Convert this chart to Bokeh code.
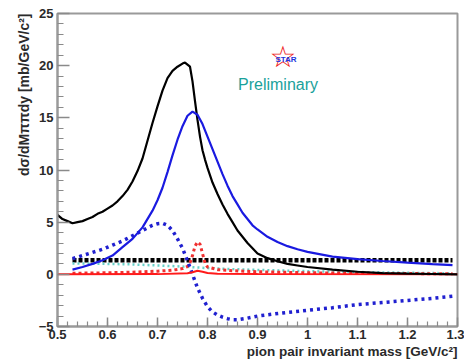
from bokeh.plotting import figure
from bokeh.models import Range1d, FixedTicker, Label, Title, CustomJSTickFormatter
from bokeh.embed import file_html
from bokeh.resources import INLINE

# ---------------- data ----------------
# measured spectrum (black)
data_mass = [0.50, 0.51, 0.52, 0.53, 0.54, 0.55, 0.56, 0.57, 0.58, 0.59,
             0.60, 0.61, 0.62, 0.63, 0.64, 0.65, 0.66, 0.67, 0.68, 0.69,
             0.70, 0.71, 0.72, 0.73, 0.74, 0.75, 0.755, 0.76, 0.765, 0.77,
             0.775, 0.78, 0.785, 0.79, 0.795, 0.80, 0.81, 0.82, 0.83, 0.84,
             0.85, 0.86, 0.87, 0.88, 0.89, 0.90, 0.92, 0.94, 0.96, 0.98,
             1.00, 1.05, 1.10, 1.15, 1.20, 1.25, 1.30]
data_xsec = [5.7, 5.3, 5.1, 4.9, 5.0, 5.1, 5.3, 5.5, 5.8, 6.0,
             6.3, 6.6, 7.0, 7.5, 8.1, 8.9, 9.9, 11.1, 12.8, 14.5,
             16.1, 17.6, 18.8, 19.5, 19.9, 20.2, 20.3, 20.1, 19.9, 18.5,
             16.6, 14.8, 13.2, 11.9, 11.0, 10.2, 8.8, 7.7, 6.7, 5.8,
             5.0, 4.2, 3.6, 3.0, 2.5, 2.0, 1.55, 1.25, 1.0, 0.85,
             0.7, 0.45, 0.25, 0.12, 0.06, 0.03, 0.0]

# rho Breit-Wigner (blue solid)
rho_mass = [0.53, 0.55, 0.57, 0.59, 0.61, 0.63, 0.65, 0.67, 0.69, 0.70,
            0.71, 0.72, 0.73, 0.74, 0.75, 0.76, 0.77, 0.78, 0.79, 0.80,
            0.81, 0.82, 0.83, 0.84, 0.85, 0.86, 0.87, 0.88, 0.89, 0.90,
            0.92, 0.94, 0.96, 0.98, 1.00, 1.05, 1.10, 1.15, 1.20, 1.25, 1.29]
rho_xsec = [0.45, 0.7, 1.0, 1.35, 1.8, 2.6, 3.4, 4.5, 6.1, 7.1,
            8.3, 9.8, 11.4, 12.9, 14.2, 15.2, 15.6, 15.3, 14.4, 13.2,
            12.0, 10.8, 9.6, 8.5, 7.5, 6.7, 5.9, 5.3, 4.7, 4.3,
            3.6, 3.1, 2.7, 2.4, 2.15, 1.7, 1.45, 1.28, 1.12, 0.98, 0.88]

# interference term (blue dotted)
intf_mass = [0.53, 0.55, 0.57, 0.59, 0.61, 0.63, 0.65, 0.67, 0.69, 0.70,
             0.71, 0.72, 0.73, 0.74, 0.75, 0.76, 0.77, 0.78, 0.79, 0.80,
             0.81, 0.82, 0.83, 0.84, 0.85, 0.86, 0.88, 0.90, 0.95, 1.00,
             1.05, 1.10, 1.15, 1.20, 1.25, 1.29]
intf_xsec = [1.5, 1.8, 2.1, 2.4, 2.8, 3.2, 3.7, 4.2, 4.7, 4.85,
             4.9, 4.7, 4.2, 3.4, 2.5, 1.3, 0.0, -1.3, -2.3, -3.1,
             -3.6, -3.9, -4.1, -4.25, -4.35, -4.35, -4.2, -4.0, -3.7, -3.45,
             -3.2, -2.9, -2.7, -2.5, -2.3, -2.1]

# omega contribution (red dotted)
omega_mass = [0.53, 0.60, 0.65, 0.70, 0.73, 0.75, 0.76, 0.765, 0.77, 0.775,
              0.78, 0.785, 0.79, 0.795, 0.80, 0.82, 0.85, 0.90, 1.00, 1.10, 1.29]
omega_xsec = [0.1, 0.15, 0.2, 0.3, 0.4, 0.55, 0.75, 1.1, 1.8, 2.7,
              3.1, 2.9, 2.0, 1.1, 0.7, 0.45, 0.35, 0.25, 0.15, 0.1, 0.05]

# omega-rho interference (red solid)
omint_mass = [0.50, 0.70, 0.76, 0.77, 0.78, 0.79, 0.80, 0.82, 0.90, 1.30]
omint_xsec = [0.0, 0.02, 0.1, 0.2, 0.35, 0.25, 0.12, 0.05, 0.02, 0.0]

# incoherent background (cyan dotted)
bkg_mass = [0.53, 0.60, 0.65, 0.70, 0.75, 0.80, 0.85, 0.90, 1.00, 1.10, 1.20, 1.29]
bkg_xsec = [1.05, 1.0, 0.95, 0.85, 0.75, 0.6, 0.5, 0.42, 0.3, 0.22, 0.15, 0.1]

# direct pi+pi- (black dotted, constant)
direct_mass = [0.53, 1.29]
direct_xsec = [1.35, 1.35]

x_ticks = [0.5, 0.6, 0.7, 0.8, 0.9, 1.0, 1.1, 1.2, 1.3]
y_ticks = [-5, 0, 5, 10, 15, 20, 25]
x_title = "pion pair invariant mass [GeV/c²]"
y_title = "dσ/dMππdy [mb/GeV/c²]"

# ---------------- figure ----------------
p = figure(width=464, height=361, output_backend="svg", toolbar_location=None,
           x_range=Range1d(0.5, 1.3), y_range=Range1d(-5, 25),
           min_border_left=57, min_border_right=7, min_border_top=13,
           min_border_bottom=35)
p.xgrid.visible = False
p.ygrid.visible = False
p.outline_line_color = "#9a9a9a"
p.outline_line_width = 2
p.background_fill_color = "white"
p.border_fill_color = "white"

xminor = [round(x_ticks[0] + i * 0.02, 3) for i in range(int(round((x_ticks[-1] - x_ticks[0]) / 0.02)) + 1)]
yminor = list(range(y_ticks[0], y_ticks[-1] + 1))
p.xaxis.ticker = FixedTicker(ticks=x_ticks, minor_ticks=xminor)
p.yaxis.ticker = FixedTicker(ticks=y_ticks, minor_ticks=yminor)
p.xaxis.formatter = CustomJSTickFormatter(code="return String(Number(tick.toFixed(1)));")

for ax in (p.xaxis[0], p.yaxis[0]):
    ax.axis_line_color = "#9a9a9a"
    ax.axis_line_width = 2
    ax.major_tick_line_color = "#8a8a8a"
    ax.minor_tick_line_color = "#8a8a8a"
    ax.major_tick_line_width = 1.5
    ax.minor_tick_line_width = 1.2
    ax.major_tick_out = 0
    ax.minor_tick_out = 0
    ax.major_label_text_font = "Liberation Sans"
    ax.major_label_text_font_style = "bold"
    ax.major_label_text_font_size = "13px"
    ax.major_label_text_color = "#2a2a2a"
p.xaxis.major_tick_in = 9
p.xaxis.minor_tick_in = 5
p.yaxis.major_tick_in = 12
p.yaxis.minor_tick_in = 6
p.xaxis.major_label_standoff = 3
p.yaxis.major_label_standoff = 4

# axis titles, right/top aligned as in ROOT
p.add_layout(Title(text=x_title, align="right", standoff=0,
                   text_font="Liberation Sans", text_font_style="bold",
                   text_font_size="13.5px", text_color="#2a2a2a"), "below")
p.add_layout(Title(text=y_title, align="right", standoff=7,
                   text_font="Liberation Sans", text_font_style="bold",
                   text_font_size="14px", text_color="#2a2a2a"), "left")

# ---------------- curves ----------------
p.line(direct_mass, direct_xsec, line_color="black", line_width=4.5, line_dash="4 2")
p.line(bkg_mass, bkg_xsec, line_color="#66d0c8", line_width=2.5, line_dash="2 3")
p.line(omega_mass, omega_xsec, line_color="#f03030", line_width=3, line_dash="3 3")
p.line(intf_mass, intf_xsec, line_color="#2020d0", line_width=3.5, line_dash="3 4")
p.line(omint_mass, omint_xsec, line_color="#ff1a1a", line_width=2)
p.line(data_mass, data_xsec, line_color="black", line_width=2.2)
p.line(rho_mass, rho_xsec, line_color="#1a1ae0", line_width=2.2)

# ---------------- texts ----------------
p.add_layout(Label(x=0.941, y=18.2, text="Preliminary", text_align="center",
                   text_baseline="middle", text_font="Liberation Sans",
                   text_font_size="16px", text_color="#1aa19b"))
p.add_layout(Label(x=0.951, y=20.9, text="☆", text_align="center",
                   text_baseline="middle", text_font="DejaVu Sans",
                   text_font_size="30px", text_color="#ee2222"))
p.add_layout(Label(x=0.957, y=20.6, text="STAR", text_align="center",
                   text_baseline="middle", text_font="Liberation Sans",
                   text_font_style="bold", text_font_size="8px", text_color="#2233dd"))

open("out.html", "w").write(file_html(p, INLINE))
